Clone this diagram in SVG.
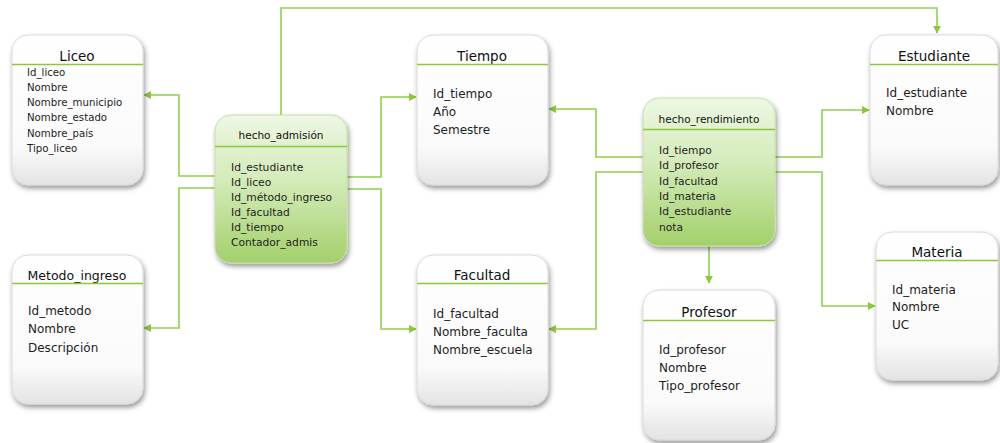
<svg xmlns="http://www.w3.org/2000/svg" width="1000" height="443" viewBox="0 0 1000 443">
  <defs>
    <linearGradient id="gWhite" x1="0" y1="0" x2="0" y2="1">
      <stop offset="0" stop-color="#ffffff"/>
      <stop offset="0.75" stop-color="#fafafa"/>
      <stop offset="1" stop-color="#e3e3e3"/>
    </linearGradient>
    <linearGradient id="gGreen" x1="0" y1="0" x2="0" y2="1">
      <stop offset="0" stop-color="#eef7e4"/>
      <stop offset="0.45" stop-color="#d3ebb8"/>
      <stop offset="1" stop-color="#a3d06a"/>
    </linearGradient>
    <filter id="shadow" x="-10%" y="-10%" width="125%" height="125%">
      <feDropShadow dx="1.5" dy="3" stdDeviation="2.5" flood-color="#000" flood-opacity="0.4"/>
    </filter>
    <marker id="arrow" viewBox="0 0 10 10" refX="9" refY="5" markerWidth="8" markerHeight="8" markerUnits="userSpaceOnUse" orient="auto">
      <path d="M0,0 L10,5 L0,10 Z" fill="#8dc63f"/>
    </marker>
    <style>
      .box { fill: url(#gWhite); stroke: #d9d9d9; stroke-width: 1; filter: url(#shadow); }
      .fact { fill: url(#gGreen); stroke: #c5e0a5; stroke-width: 1; filter: url(#shadow); }
      .sep { stroke: #8dc63f; stroke-width: 1.5; }
      .title { font-family: "DejaVu Sans", "Liberation Sans", sans-serif; font-size: 13.5px; fill: #111; text-anchor: middle; }
      .ftitle { font-family: "DejaVu Sans", "Liberation Sans", sans-serif; font-size: 10.5px; fill: #111; text-anchor: middle; }
      .row { font-family: "DejaVu Sans", "Liberation Sans", sans-serif; font-size: 10.7px; fill: #1e1e1e; }
      .rowL { font-family: "DejaVu Sans", "Liberation Sans", sans-serif; font-size: 12px; fill: #1e1e1e; }
      .conn { fill: none; stroke: #92d050; stroke-width: 1.6; marker-end: url(#arrow); }
    </style>
  </defs>

  <!-- connectors -->
  <g id="connectors">
    <path class="conn" d="M215,176 H179 V95 H144"/>
    <path class="conn" d="M215,188 H179 V328 H144"/>
    <path class="conn" d="M347,177 H381 V97 H416"/>
    <path class="conn" d="M347,189 H381 V329 H416"/>
    <path class="conn" d="M281,115 V8 H937 V33"/>
    <path class="conn" d="M643,157 H596 V109 H549"/>
    <path class="conn" d="M643,172 H596 V329 H549"/>
    <path class="conn" d="M775,157 H822 V110 H869"/>
    <path class="conn" d="M775,172 H822 V306 H875"/>
    <path class="conn" d="M709,246 V283"/>
  </g>

  <!-- dimension tables -->
  <g id="liceo">
    <rect class="box" x="12" y="35" width="131" height="150" rx="16"/>
    <text class="title" x="77" y="61">Liceo</text>
    <line class="sep" x1="12" y1="64.5" x2="143" y2="64.5"/>
    <text class="row" x="27" y="76" style="font-size:10.2px">Id_liceo</text>
    <text class="row" x="27" y="91" style="font-size:10.2px">Nombre</text>
    <text class="row" x="27" y="106" style="font-size:10.2px">Nombre_municipio</text>
    <text class="row" x="27" y="121" style="font-size:10.2px">Nombre_estado</text>
    <text class="row" x="27" y="137" style="font-size:10.2px">Nombre_país</text>
    <text class="row" x="27" y="152" style="font-size:10.2px">Tipo_liceo</text>
  </g>

  <g id="metodo_ingreso">
    <rect class="box" x="12" y="255" width="131" height="149" rx="16"/>
    <text class="title" x="77" y="280" style="font-size:12.5px">Metodo_ingreso</text>
    <line class="sep" x1="12" y1="283.5" x2="143" y2="283.5"/>
    <text class="rowL" x="28" y="315">Id_metodo</text>
    <text class="rowL" x="28" y="333">Nombre</text>
    <text class="rowL" x="28" y="352">Descripción</text>
  </g>

  <g id="tiempo">
    <rect class="box" x="417" y="35" width="131" height="150" rx="16"/>
    <text class="title" x="482" y="61">Tiempo</text>
    <line class="sep" x1="417" y1="64.5" x2="548" y2="64.5"/>
    <text class="rowL" x="433" y="98">Id_tiempo</text>
    <text class="rowL" x="433" y="116">Año</text>
    <text class="rowL" x="433" y="134">Semestre</text>
  </g>

  <g id="facultad">
    <rect class="box" x="417" y="255" width="131" height="150" rx="16"/>
    <text class="title" x="482" y="280">Facultad</text>
    <line class="sep" x1="417" y1="283.5" x2="548" y2="283.5"/>
    <text class="rowL" x="433" y="318">Id_facultad</text>
    <text class="rowL" x="433" y="336">Nombre_faculta</text>
    <text class="rowL" x="433" y="354">Nombre_escuela</text>
  </g>

  <g id="profesor">
    <rect class="box" x="643" y="290" width="132" height="150" rx="16"/>
    <text class="title" x="709" y="317">Profesor</text>
    <line class="sep" x1="643" y1="320.5" x2="775" y2="320.5"/>
    <text class="rowL" x="659" y="354">Id_profesor</text>
    <text class="rowL" x="659" y="372">Nombre</text>
    <text class="rowL" x="659" y="390">Tipo_profesor</text>
  </g>

  <g id="estudiante">
    <rect class="box" x="870" y="35" width="128" height="150" rx="16"/>
    <text class="title" x="934" y="61">Estudiante</text>
    <line class="sep" x1="870" y1="64.5" x2="998" y2="64.5"/>
    <text class="rowL" x="886" y="97">Id_estudiante</text>
    <text class="rowL" x="886" y="115">Nombre</text>
  </g>

  <g id="materia">
    <rect class="box" x="876" y="232" width="122" height="148" rx="16"/>
    <text class="title" x="937" y="257">Materia</text>
    <line class="sep" x1="876" y1="260.5" x2="998" y2="260.5"/>
    <text class="rowL" x="892" y="294">Id_materia</text>
    <text class="rowL" x="892" y="311">Nombre</text>
    <text class="rowL" x="892" y="329">UC</text>
  </g>

  <!-- fact tables -->
  <g id="hecho_admision">
    <rect class="fact" x="215" y="115" width="132" height="148" rx="16"/>
    <text class="ftitle" x="281" y="139">hecho_admisión</text>
    <line class="sep" x1="215" y1="146.5" x2="347" y2="146.5"/>
    <text class="row" x="231" y="171">Id_estudiante</text>
    <text class="row" x="231" y="186">Id_liceo</text>
    <text class="row" x="231" y="201">Id_método_ingreso</text>
    <text class="row" x="231" y="216">Id_facultad</text>
    <text class="row" x="231" y="231">Id_tiempo</text>
    <text class="row" x="231" y="246">Contador_admis</text>
  </g>

  <g id="hecho_rendimiento">
    <rect class="fact" x="643" y="98" width="132" height="148" rx="16"/>
    <text class="ftitle" x="709" y="123">hecho_rendimiento</text>
    <line class="sep" x1="643" y1="129.5" x2="775" y2="129.5"/>
    <text class="row" x="659" y="154">Id_tiempo</text>
    <text class="row" x="659" y="169">Id_profesor</text>
    <text class="row" x="659" y="185">Id_facultad</text>
    <text class="row" x="659" y="200">Id_materia</text>
    <text class="row" x="659" y="215">Id_estudiante</text>
    <text class="row" x="659" y="231">nota</text>
  </g>
</svg>
